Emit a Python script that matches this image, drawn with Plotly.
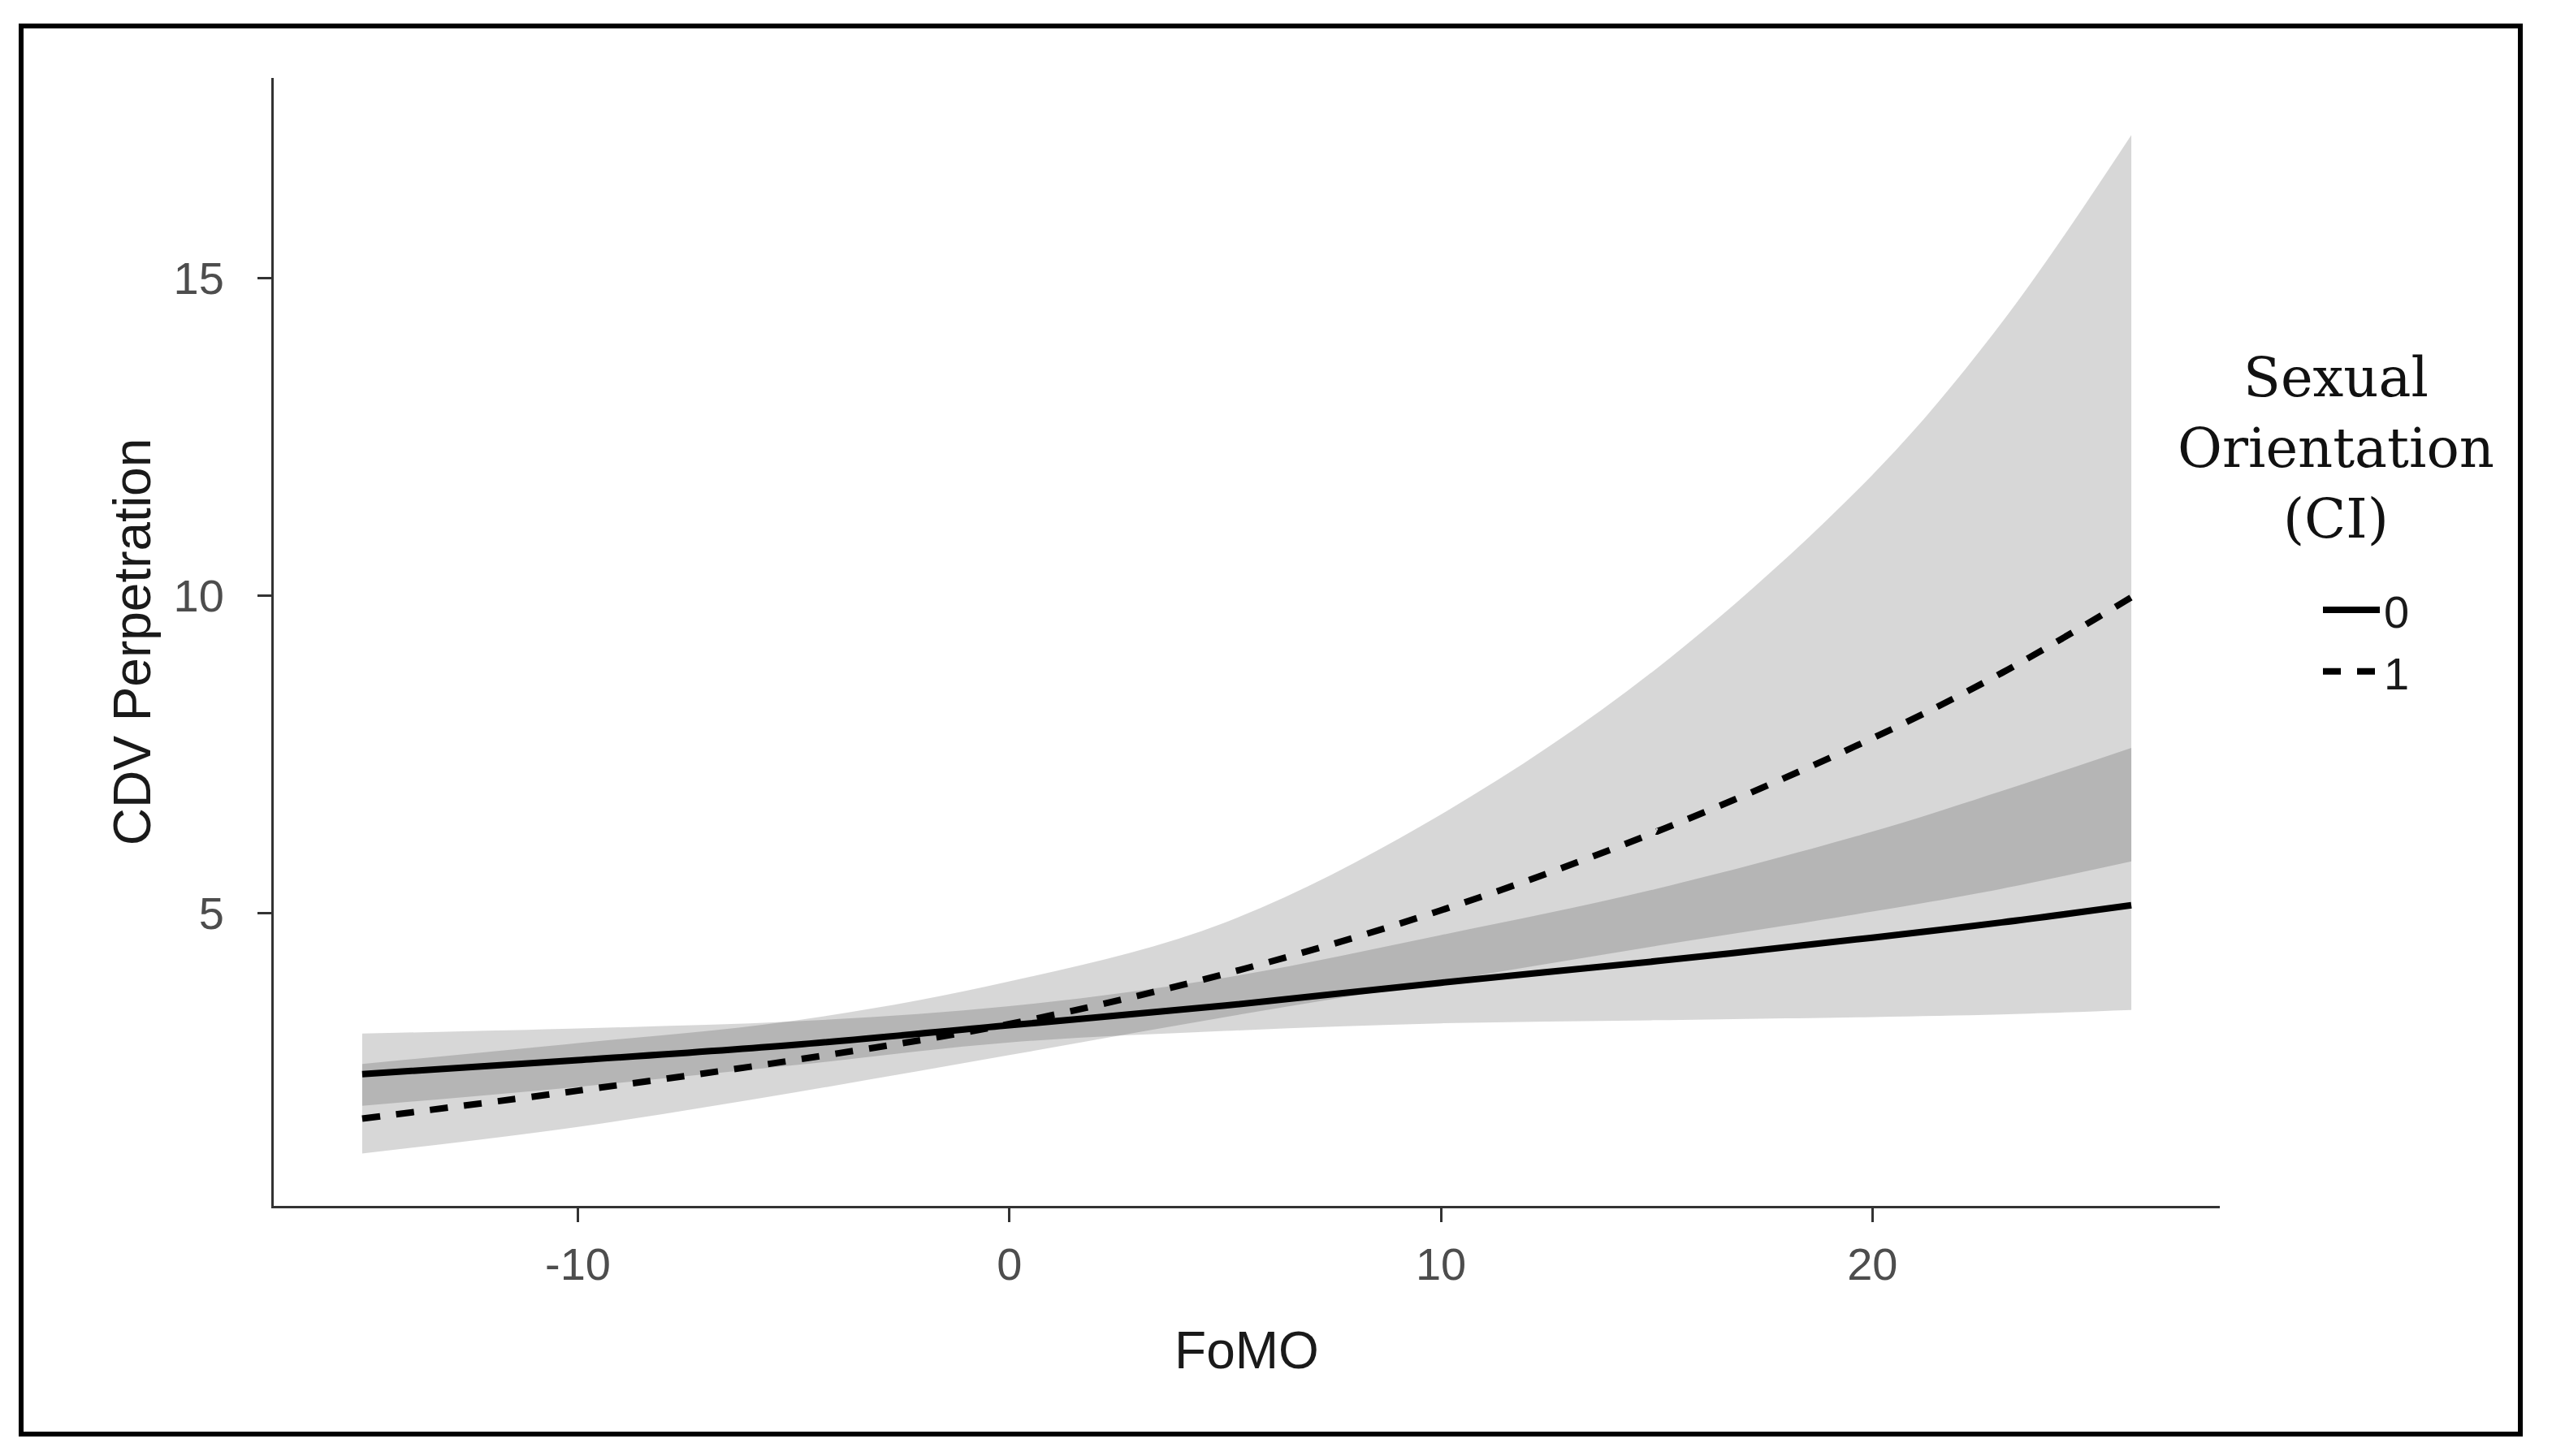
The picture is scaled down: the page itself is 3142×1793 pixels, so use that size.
import plotly.graph_objects as go

# FoMO values at which the predicted curves were read
fomo = [-15, -10, -5, 0, 5, 10, 15, 20, 23, 26]

# Sexual orientation = 0 (solid line)
fit_0 = [2.46, 2.68, 2.92, 3.23, 3.54, 3.90, 4.24, 4.61, 4.85, 5.12]
lo_0 = [1.96, 2.26, 2.60, 2.96, 3.14, 3.26, 3.31, 3.36, 3.40, 3.47]
hi_0 = [3.10, 3.18, 3.29, 3.53, 3.98, 4.65, 5.38, 6.28, 6.92, 7.60]

# Sexual orientation = 1 (dashed line)
fit_1 = [1.76, 2.20, 2.68, 3.25, 4.04, 5.04, 6.28, 7.75, 8.78, 9.97]
lo_1 = [1.21, 1.63, 2.17, 2.76, 3.36, 3.92, 4.48, 5.02, 5.38, 5.81]
hi_1 = [2.62, 2.95, 3.30, 3.92, 4.85, 6.55, 8.85, 11.90, 14.30, 17.25]

x_ticks = [-10, 0, 10, 20]
x_tick_text = ["-10", "0", "10", "20"]
y_ticks = [5, 10, 15]
group_labels = ["0", "1"]

W, H = 3142, 1793
L, R, T, B = 329, 417, 88, 316
pw, ph = W - L - R, H - T - B

def px_x(p):
    return (p - L) / pw

def px_y(p):
    return (H - B - p) / ph

ribbon = "rgba(0,0,0,0.157)"
fig = go.Figure()

for lo, hi in [(lo_0, hi_0), (lo_1, hi_1)]:
    fig.add_trace(go.Scatter(x=fomo, y=lo, mode="lines",
                             line=dict(width=0, shape="spline"),
                             showlegend=False, hoverinfo="skip"))
    fig.add_trace(go.Scatter(x=fomo, y=hi, mode="lines",
                             line=dict(width=0, shape="spline"),
                             fill="tonexty", fillcolor=ribbon,
                             showlegend=False, hoverinfo="skip"))

fig.add_trace(go.Scatter(x=fomo, y=fit_0, mode="lines", name=group_labels[0],
                         line=dict(color="black", width=8, shape="spline")))
fig.add_trace(go.Scatter(x=fomo, y=fit_1, mode="lines", name=group_labels[1],
                         line=dict(color="black", width=8, shape="spline",
                                   dash="22px,20px")))

axis_common = dict(
    showline=True, linecolor="#333333", linewidth=3,
    ticks="outside", ticklen=17, tickwidth=3, tickcolor="#333333",
    showgrid=False, zeroline=False,
    tickfont=dict(family="Liberation Sans, Arial, sans-serif", size=56, color="#4d4d4d"),
)

fig.update_layout(
    width=W, height=H, autosize=False,
    margin=dict(l=L, r=R, t=T, b=B, pad=0),
    paper_bgcolor="white", plot_bgcolor="white",
    xaxis=dict(range=[-17.05, 28.05], tickvals=x_ticks, ticktext=x_tick_text,
               title=dict(text="FoMO", standoff=53,
                          font=dict(family="Liberation Sans, Arial, sans-serif", size=64, color="#1a1a1a")),
               ticklabelstandoff=4, **axis_common),
    yaxis=dict(range=[0.385, 18.15], tickvals=y_ticks,
               title=dict(text="CDV Perpetration", standoff=8,
                          font=dict(family="Liberation Sans, Arial, sans-serif", size=64, color="#1a1a1a")),
               ticklabelstandoff=30, **axis_common),
    legend=dict(x=px_x(2847), y=px_y(700), xanchor="left", yanchor="top",
                font=dict(family="Liberation Sans, Arial, sans-serif", size=56, color="#1a1a1a"),
                itemwidth=70, bgcolor="rgba(0,0,0,0)", traceorder="normal",
                tracegroupgap=0),
    showlegend=True,
)

fig.add_annotation(text="Sexual<br>Orientation<br>(CI)", xref="paper", yref="paper",
                   x=px_x(2868), y=px_y(544), xanchor="center", yanchor="middle",
                   showarrow=False, align="center",
                   font=dict(family="DejaVu Serif, serif", size=67, color="#111111"))

fig.add_shape(type="rect", xref="paper", yref="paper",
              x0=px_x(18), x1=px_x(3095), y0=px_y(1758), y1=px_y(24),
              line=dict(color="black", width=6), fillcolor="rgba(0,0,0,0)")

fig.write_html("out.html")
